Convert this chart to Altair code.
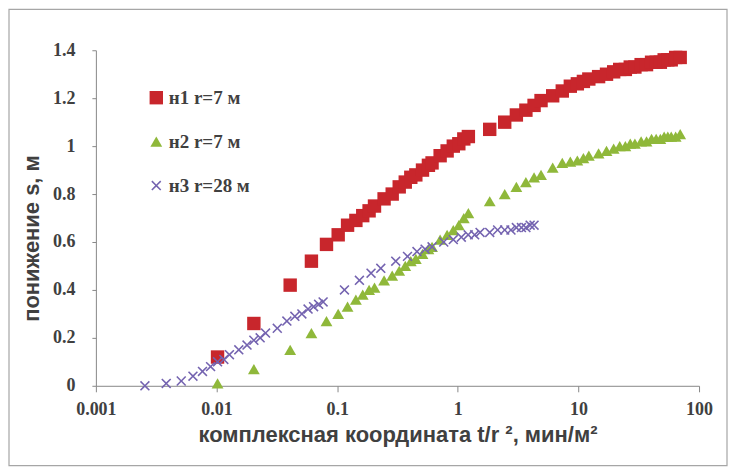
import altair as alt
import pandas as pd

series_names = ["н1 r=7 м", "н2 r=7 м", "н3 r=28 м"]
series_colors = ["#C8262C", "#8FB83A", "#7463B0"]

# complex coordinate t/r^2 for the two wells at r = 7 m
x_r7 = [0.0102, 0.0204, 0.0408, 0.0612, 0.0816, 0.102, 0.122, 0.143, 0.163, 0.184,
        0.204, 0.245, 0.286, 0.327, 0.367, 0.408, 0.449, 0.510, 0.571, 0.612,
        0.714, 0.816, 0.918, 1.020, 1.122, 1.224,
        1.84, 2.45, 3.06, 3.67, 4.29, 4.90, 6.12, 7.35, 8.57, 9.80,
        11.0, 12.2, 14.7, 17.1, 19.6, 22.0, 24.5, 26.9, 29.4, 33.1,
        36.7, 40.4, 44.1, 47.8, 51.4, 55.1, 58.8, 64.0, 69.8]
y_n1 = [0.12, 0.26, 0.42, 0.52, 0.59, 0.63, 0.67, 0.69, 0.71, 0.73,
        0.75, 0.78, 0.80, 0.83, 0.85, 0.87, 0.88, 0.90, 0.92, 0.93,
        0.96, 0.98, 1.00, 1.01, 1.03, 1.04,
        1.07, 1.10, 1.13, 1.15, 1.17, 1.19, 1.21, 1.23, 1.25, 1.26,
        1.27, 1.28, 1.29, 1.30, 1.31, 1.32, 1.32, 1.33, 1.33, 1.34,
        1.34, 1.35, 1.35, 1.35, 1.36, 1.36, 1.36, 1.37, 1.37]
y_n2 = [0.01, 0.07, 0.15, 0.22, 0.27, 0.30, 0.33, 0.36, 0.38, 0.40,
        0.41, 0.44, 0.46, 0.48, 0.50, 0.52, 0.53, 0.55, 0.57, 0.58,
        0.61, 0.63, 0.65, 0.67, 0.70, 0.72,
        0.77, 0.80, 0.83, 0.85, 0.87, 0.88, 0.91, 0.93, 0.935, 0.94,
        0.95, 0.96, 0.97, 0.98, 0.99, 1.00, 1.00, 1.01, 1.01, 1.02,
        1.02, 1.03, 1.03, 1.03, 1.04, 1.04, 1.04, 1.04, 1.05]

# complex coordinate t/r^2 for the well at r = 28 m
x_r28 = [0.00255, 0.00383, 0.00510, 0.00638, 0.00765, 0.00893, 0.0102, 0.0115, 0.0128, 0.0153,
         0.0179, 0.0204, 0.0230, 0.0255, 0.0319, 0.0383, 0.0446, 0.0510, 0.0574, 0.0638,
         0.0702, 0.0765, 0.115, 0.153, 0.191, 0.230, 0.306, 0.383, 0.459, 0.536,
         0.612, 0.765, 0.918, 1.07, 1.22, 1.38, 1.53, 1.84, 2.14, 2.45,
         2.76, 3.06, 3.37, 3.67, 3.98, 4.29]
y_n3 = [0.00, 0.01, 0.02, 0.04, 0.06, 0.08, 0.10, 0.11, 0.13, 0.15,
        0.17, 0.19, 0.20, 0.22, 0.24, 0.27, 0.29, 0.30, 0.32, 0.33,
        0.34, 0.35, 0.40, 0.44, 0.47, 0.49, 0.52, 0.54, 0.56, 0.57,
        0.58, 0.60, 0.61, 0.62, 0.63, 0.63, 0.64, 0.64, 0.65, 0.65,
        0.65, 0.66, 0.66, 0.66, 0.67, 0.67]

x_ticks = [0.001, 0.01, 0.1, 1, 10, 100]
y_ticks = [0, 0.2, 0.4, 0.6, 0.8, 1.0, 1.2, 1.4]

rows = []
for xv, yv in zip(x_r7, y_n1):
    rows.append({"x": xv, "s": yv, "series": series_names[0]})
for xv, yv in zip(x_r7, y_n2):
    rows.append({"x": xv, "s": yv, "series": series_names[1]})
for xv, yv in zip(x_r28, y_n3):
    rows.append({"x": xv, "s": yv, "series": series_names[2]})
df = pd.DataFrame(rows)

X_SHAPE = ("M-1,-0.78L-0.78,-1L0,-0.22L0.78,-1L1,-0.78L0.22,0L1,0.78L0.78,1"
           "L0,0.22L-0.78,1L-1,0.78L-0.22,0Z")

W, H = 604, 336

points = alt.Chart(df).mark_point(filled=True, opacity=1, strokeWidth=0).encode(
    x=alt.X("x:Q",
            scale=alt.Scale(type="log", domain=[0.001, 100], nice=False),
            axis=alt.Axis(values=x_ticks, format="~g", grid=False, labelFlush=False,
                          title="комплексная координата  t/r ², мин/м²",
                          titlePadding=6, labelPadding=9)),
    y=alt.Y("s:Q",
            scale=alt.Scale(domain=[0, 1.4], nice=False),
            axis=alt.Axis(values=y_ticks, format="~g", grid=False, tickSize=4,
                          labelPadding=17, title="понижение s, м",
                          titlePadding=9, titleY=188)),
    color=alt.Color("series:N",
                    scale=alt.Scale(domain=series_names, range=series_colors),
                    legend=alt.Legend(orient="none", legendX=51, legendY=38,
                                      title=None, rowPadding=24,
                                      labelFont="Liberation Serif",
                                      labelFontSize=19, labelColor="#404040",
                                      labelFontWeight="bold", symbolOpacity=1,
                                      symbolStrokeWidth=0, labelOffset=3)),
    shape=alt.Shape("series:N",
                    scale=alt.Scale(domain=series_names,
                                    range=["square", "triangle-up", X_SHAPE])),
    size=alt.Size("series:N",
                  scale=alt.Scale(domain=series_names, range=[180, 100, 100])),
)

border_df = pd.DataFrame({"k": [0]})
border = alt.Chart(border_df).mark_rect(fill=None, stroke="#A6A6A6", strokeWidth=1.2).encode(
    x=alt.value(-87), x2=alt.value(W + 28),
    y=alt.value(-41), y2=alt.value(H + 80),
)

chart = alt.layer(border, points).properties(
    width=W, height=H,
    autosize=alt.AutoSizeParams(type="none"),
    padding={"left": 88, "top": 42, "right": 31, "bottom": 83},
).configure_view(stroke=None).configure_axis(
    domainColor="#888888", tickColor="#888888", tickSize=6,
    labelFont="Liberation Serif", labelFontSize=18, labelColor="#404040",
    labelFontWeight="bold",
    titleFont="Liberation Sans", titleFontSize=22, titleColor="#404040",
    titleFontWeight="bold",
)

chart.save("out.html", embed_options={"renderer": "svg", "actions": False})
